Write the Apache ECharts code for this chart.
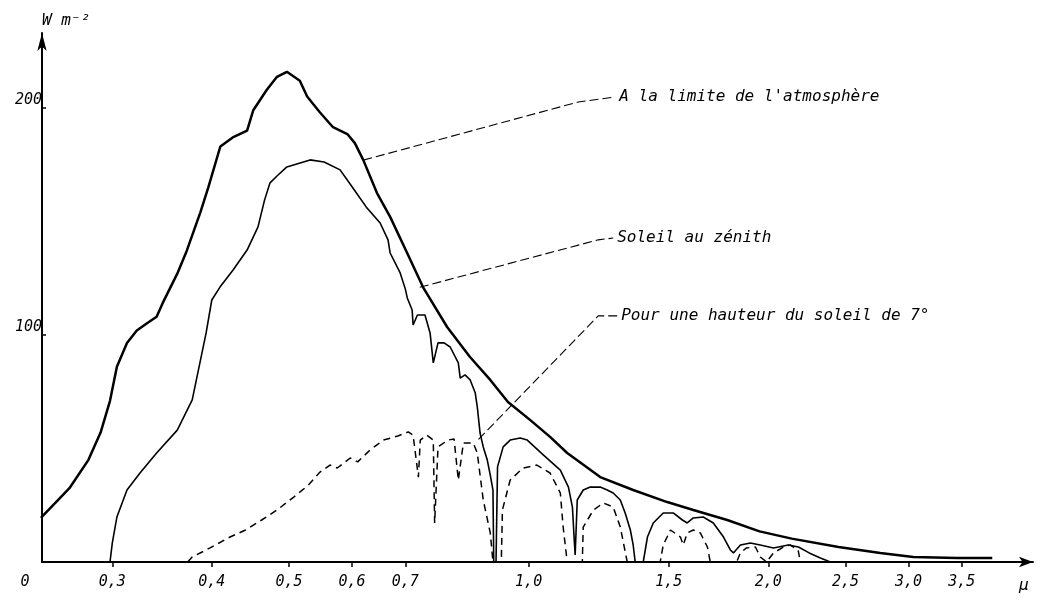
<!DOCTYPE html>
<html>
<head>
<meta charset="utf-8">
<script src="https://cdn.jsdelivr.net/npm/echarts@6/dist/echarts.min.js"></script>
<style>
  html, body { margin: 0; padding: 0; background: #fff; }
  #chart { width: 1042px; height: 604px; }
</style>
</head>
<body>
<div id="chart"></div>
<script>
// Solar spectral irradiance: wavelength in μm, irradiance in W m⁻²

// Curve at the top of the atmosphere
const limiteWavelength = [0.244, 0.256, 0.265, 0.280, 0.290, 0.298, 0.304, 0.313, 0.322, 0.332, 0.341, 0.347,
  0.362, 0.372, 0.387, 0.396, 0.410, 0.425, 0.443, 0.451, 0.469, 0.483, 0.497, 0.516, 0.527, 0.547, 0.568,
  0.592, 0.605, 0.620, 0.645, 0.670, 0.704, 0.737, 0.790, 0.844, 0.895, 0.942, 1.004, 1.064, 1.118, 1.230,
  1.353, 1.493, 1.610, 1.776, 1.950, 2.140, 2.450, 2.765, 3.041, 3.454, 3.822];
const limiteIrradiance = [19.4, 27, 32.5, 45, 57, 71, 86, 96.5, 102, 105.3, 108, 114,
  127, 137, 154, 165, 183, 187, 190, 199, 208, 213.7, 215.9, 212, 205, 198, 191.5,
  188.5, 184.5, 177, 162.5, 152, 136, 121, 103.5, 90.3, 80.2, 70.5, 62.6, 55.1, 48, 37.4,
  31.7, 26.4, 22.9, 18.5, 13.5, 10.3, 6.6, 4.0, 2.2, 1.8, 1.8];

// Curve with the sun at the zenith
const zenithWavelength = [0.298, 0.300, 0.304, 0.313, 0.325, 0.341, 0.362, 0.378, 0.3935, 0.400, 0.4096, 0.4254,
  0.443, 0.4572, 0.466, 0.4734, 0.483, 0.497, 0.5315, 0.5535, 0.5797, 0.6004, 0.6251, 0.6509, 0.6659, 0.670,
  0.6897, 0.700, 0.704, 0.714, 0.716, 0.725, 0.741, 0.752, 0.759, 0.7695, 0.783, 0.797, 0.816, 0.8205,
  0.832, 0.8445, 0.857, 0.862, 0.869, 0.877, 0.8873, 0.895, 0.902, 0.904, 0.910, 0.914, 0.929, 0.948,
  0.976, 0.996, 1.044, 1.096, 1.122, 1.135, 1.141, 1.144, 1.151, 1.171, 1.195, 1.230, 1.255, 1.277,
  1.3035, 1.322, 1.342, 1.353, 1.361, 1.393, 1.410, 1.434, 1.476, 1.519, 1.560, 1.582, 1.610, 1.657,
  1.706, 1.757, 1.792, 1.808, 1.845, 1.899, 1.954, 2.030, 2.119, 2.182, 2.251, 2.325, 2.393];
const zenithIrradiance = [0, 8.4, 19.8, 31.7, 39.2, 48, 58.1, 71.4, 100.9, 115.4, 121.1, 128.6,
  137.4, 147.6, 159.5, 167, 170, 174, 177.1, 176.2, 172.7, 165.2, 156.4, 149.3, 141.9, 136.1,
  127.3, 120.3, 116.3, 111, 104.4, 108.8, 108.8, 100.9, 87.7, 96.5, 96.5, 94.7, 87.7, 81,
  82.4, 80.2, 74.4, 68.3, 56.8, 50.7, 44.9, 38.3, 31.7, 0, 0, 41.9, 50.7, 53.7,
  54.6, 53.7, 47.1, 40.5, 33, 24.2, 9.7, 3.1, 27.3, 31.7, 33, 33, 31.7, 30.4,
  27.3, 21.6, 14.1, 7.5, 0, 0, 11, 17.2, 21.6, 21.6, 18.5, 17.2, 19.4, 19.8,
  17.2, 11, 5.3, 4.0, 7.5, 8.4, 7.5, 6.2, 7.5, 6.6, 4.0, 1.8, 0];

// Curve for a solar elevation of 7°
const septWavelength = [0.373, 0.378, 0.398, 0.4217, 0.441, 0.462, 0.483, 0.507, 0.529, 0.547, 0.563, 0.575,
  0.597, 0.610, 0.632, 0.657, 0.685, 0.706, 0.716, 0.727, 0.731, 0.745, 0.759, 0.762, 0.7695, 0.792,
  0.806, 0.816, 0.828, 0.852, 0.862, 0.877, 0.895, 0.902, 0.924, 0.927, 0.948, 0.984, 1.024, 1.064,
  1.096, 1.105, 1.118, 1.168, 1.171, 1.206, 1.241, 1.277, 1.3035, 1.330, 1.463, 1.476, 1.507, 1.551,
  1.564, 1.582, 1.610, 1.643, 1.677, 1.691, 1.825, 1.845, 1.877, 1.927, 1.954, 1.990, 2.030, 2.090,
  2.130, 2.180, 2.194];
const septIrradiance = [0, 2.2, 6.2, 11, 14.1, 18.5, 22.9, 28.6, 33.9, 39.6, 42.7, 41.4,
  45.8, 44.1, 49.3, 53.7, 55.5, 57.3, 55.9, 37.4, 53.7, 55.9, 53.7, 17.2, 50.7, 53.7,
  54.2, 36.1, 52.4, 52.4, 48, 27.3, 12.8, 0, 0, 22.9, 36.1, 41.4, 42.7, 39.2,
  30.4, 15.4, 0, 0, 15.4, 22.9, 26, 24.2, 15.4, 0, 0, 7.5, 14.1, 11,
  7.5, 12.8, 14.1, 12.8, 6.6, 0, 0, 4.0, 6.2, 6.6, 2.2, 0, 4.0, 6.6,
  7.5, 5.3, 0];

// Axis ticks
const xOriginWavelength = 0.2448;
const xEndWavelength = 4.3;
const xTickWavelengths = [0.3, 0.4, 0.5, 0.6, 0.7, 1.0, 1.5, 2.0, 2.5, 3.0, 3.5];
const xTickLabels = ['0,3', '0,4', '0,5', '0,6', '0,7', '1,0', '1,5', '2,0', '2,5', '3,0', '3,5'];
const yTickValues = [100, 200];
const yMax = 233;

// Callout leaders: point on the curve, bend, label anchor
const leaderLimiteWavelength = [0.62, 1.154, 1.285];
const leaderLimiteIrradiance = [177, 202.6, 204.8];
const leaderZenithWavelength = [0.73, 1.223, 1.277];
const leaderZenithIrradiance = [121, 141.9, 142.7];
const leaderSeptWavelength = [0.865, 1.223, 1.292];
const leaderSeptIrradiance = [54, 108.4, 108.4];

const labelLimite = "A la limite de l'atmosphère";
const labelZenith = 'Soleil au zénith';
const labelSept = 'Pour une hauteur du soleil de 7°';

// The wavelength axis is logarithmic: plot ln(λ) on a value axis
const toAxis = Math.log;
const pairs = (ws, vs) => ws.map((w, i) => [toAxis(w), vs[i]]);

const FONT = "'DejaVu Sans Mono', monospace";
const text = { fontFamily: FONT, fontStyle: 'italic', color: '#000' };

const xLabelValues = [toAxis(xOriginWavelength)].concat(xTickWavelengths.map(toAxis));
const xLabelTexts = ['0'].concat(xTickLabels);
const nearest = (v, arr) => {
  let best = 0;
  arr.forEach((a, i) => { if (Math.abs(a - v) < Math.abs(arr[best] - v)) best = i; });
  return best;
};

function leader(ws, vs, label) {
  return {
    type: 'line',
    data: pairs(ws, vs),
    showSymbol: false,
    symbol: 'none',
    silent: true,
    animation: false,
    z: 1,
    lineStyle: { color: '#000', width: 1.1, type: [9, 4] },
    endLabel: { show: true, formatter: label, distance: 4, fontSize: 16, ...text }
  };
}

const chart = echarts.init(document.getElementById('chart'));
chart.setOption({
  backgroundColor: '#fff',
  animation: false,
  grid: { left: 42, right: 9, top: 33, bottom: 42 },
  xAxis: {
    type: 'value',
    min: toAxis(xOriginWavelength),
    max: toAxis(xEndWavelength),
    name: 'μ',
    nameLocation: 'end',
    nameGap: -14,
    nameTextStyle: { ...text, fontSize: 16, align: 'left', verticalAlign: 'top', padding: [16, 0, 0, 0] },
    splitLine: { show: false },
    axisLine: {
      onZero: false,
      lineStyle: { color: '#000', width: 2 },
      symbol: ['none', 'arrow'],
      symbolSize: [8, 14]
    },
    axisTick: {
      customValues: xTickWavelengths.map(toAxis),
      length: 5,
      lineStyle: { color: '#000', width: 1.5 }
    },
    axisLabel: {
      customValues: xLabelValues,
      margin: 13,
      fontSize: 15,
      ...text,
      formatter: (v) => {
        const i = nearest(v, xLabelValues);
        return i === 0 ? '{o|' + xLabelTexts[0] + '}' : xLabelTexts[i];
      },
      rich: { o: { fontSize: 15, fontFamily: FONT, fontStyle: 'italic', color: '#000', padding: [0, 34, 0, 0] } }
    }
  },
  yAxis: {
    type: 'value',
    min: 0,
    max: yMax,
    name: 'W m⁻²',
    nameLocation: 'end',
    nameGap: 4,
    nameTextStyle: { ...text, fontSize: 16, align: 'left' },
    splitLine: { show: false },
    axisLine: {
      onZero: false,
      lineStyle: { color: '#000', width: 2 },
      symbol: ['none', 'arrow'],
      symbolSize: [7, 18]
    },
    axisTick: {
      customValues: yTickValues,
      inside: true,
      length: 4,
      lineStyle: { color: '#000', width: 1.5 }
    },
    axisLabel: {
      customValues: yTickValues,
      margin: 0,
      fontSize: 15,
      verticalAlign: 'bottom',
      ...text
    }
  },
  series: [
    {
      name: labelLimite,
      type: 'line',
      data: pairs(limiteWavelength, limiteIrradiance),
      showSymbol: false,
      symbol: 'none',
      z: 3,
      lineStyle: { color: '#000', width: 2.5 }
    },
    {
      name: labelZenith,
      type: 'line',
      data: pairs(zenithWavelength, zenithIrradiance),
      showSymbol: false,
      symbol: 'none',
      z: 3,
      lineStyle: { color: '#000', width: 1.6 }
    },
    {
      name: labelSept,
      type: 'line',
      data: pairs(septWavelength, septIrradiance),
      showSymbol: false,
      symbol: 'none',
      z: 3,
      lineStyle: { color: '#000', width: 1.5, type: [7, 5] }
    },
    leader(leaderLimiteWavelength, leaderLimiteIrradiance, labelLimite),
    leader(leaderZenithWavelength, leaderZenithIrradiance, labelZenith),
    leader(leaderSeptWavelength, leaderSeptIrradiance, labelSept)
  ]
});
</script>
</body>
</html>
